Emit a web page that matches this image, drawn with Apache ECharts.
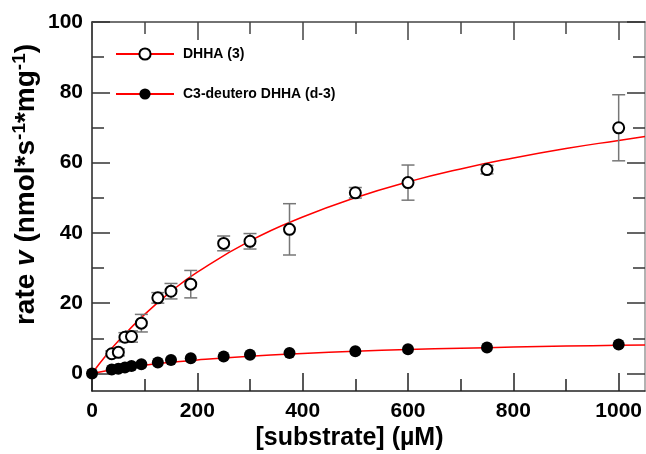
<!DOCTYPE html>
<html>
<head>
<meta charset="UTF-8">
<title>rate vs substrate</title>
<style>
body { margin: 0; background: #fff; }
#main { width: 646px; height: 454px; }
</style>
</head>
<body>
<div id="main"></div>
<script src="https://cdn.jsdelivr.net/npm/echarts@6/dist/echarts.min.js"></script>
<script>
// substrate concentrations (uM)
var substrate = [37.5, 50, 62.5, 75, 93.75, 125, 150, 187.5, 250, 300, 375, 500, 600, 750, 1000];
// DHHA (3), mean and error
var dhha = [5.6, 6.0, 10.3, 10.5, 14.3, 21.5, 23.4, 25.4, 37.0, 37.6, 41.0, 51.4, 54.3, 58.0, 69.9];
var dhhaErr = [0.8, 1.0, 1.3, 1.6, 2.5, 1.5, 2.2, 3.9, 2.1, 2.2, 7.3, 1.5, 5.0, 1.2, 9.4];
// C3-deutero DHHA (d-3)
var substrateD3 = [0, 37.5, 50, 62.5, 75, 93.75, 125, 150, 187.5, 250, 300, 375, 500, 600, 750, 1000];
var d3 = [0, 1.1, 1.3, 1.7, 2.1, 2.6, 3.1, 3.8, 4.3, 4.8, 5.3, 5.8, 6.3, 6.9, 7.4, 8.2];
// fitted curves
var fitX = [0, 25, 50, 100, 150, 200, 300, 400, 500, 600, 700, 800, 900, 1000, 1050];
var fitDhha = [0, 4.8, 9.2, 16.8, 23.3, 28.8, 37.7, 44.5, 50.0, 54.5, 58.2, 61.3, 64.0, 66.3, 67.4];
var fitD3 = [0, 0.69, 1.3, 2.33, 3.16, 3.85, 4.91, 5.69, 6.3, 6.78, 7.17, 7.49, 7.77, 8.0, 8.1];
// ticks
var xMajor = [0, 200, 400, 600, 800, 1000];
var xMinor = [100, 300, 500, 700, 900];
var yMajor = [0, 20, 40, 60, 80, 100];
var yMinor = [10, 30, 50, 70, 90];

function zip(a, b) {
  var out = [];
  for (var i = 0; i < a.length; i++) out.push([a[i], b[i]]);
  return out;
}
var errData = [];
for (var i = 0; i < substrate.length; i++) {
  errData.push([substrate[i], dhha[i] - dhhaErr[i], dhha[i] + dhhaErr[i]]);
}

var font = 'Liberation Sans, Arial, sans-serif';
var XMIN = 0, XMAX = 1050, YMIN = -5, YMAX = 100;

function xAx(pos, ticks, len, lineColor, show) {
  return {
    type: 'value', position: pos, min: XMIN, max: XMAX,
    axisLine: { show: show, onZero: false, lineStyle: { color: lineColor, width: 1.5 } },
    axisTick: { inside: true, length: len, customValues: ticks, lineStyle: { color: lineColor, width: 1.5 } },
    axisLabel: { show: false },
    splitLine: { show: false }
  };
}
function yAx(pos, ticks, len, lineColor, show) {
  return {
    type: 'value', position: pos, min: YMIN, max: YMAX,
    axisLine: { show: show, onZero: false, lineStyle: { color: lineColor, width: 1.5 } },
    axisTick: { inside: true, length: len, customValues: ticks, lineStyle: { color: '#333', width: 1.5 } },
    axisLabel: { show: false },
    splitLine: { show: false }
  };
}

var bottom = xAx('bottom', xMajor, 18, '#222', true);
bottom.axisLabel = {
  show: true, customValues: xMajor, margin: 10, color: '#000',
  fontFamily: font, fontWeight: 'bold', fontSize: 21,
  formatter: function (v) { return String(v); }
};
bottom.name = '[substrate] (\u00b5M)';
bottom.nameLocation = 'middle';
bottom.nameGap = 35;
bottom.nameMoveOverlap = false;
bottom.nameTextStyle = { color: '#000', fontFamily: font, fontWeight: 'bold', fontSize: 25, padding: [0, 38, 0, 0] };

var left = yAx('left', yMajor, 18, '#222', true);
left.axisLabel = {
  show: true, customValues: yMajor, margin: 9, color: '#000',
  fontFamily: font, fontWeight: 'bold', fontSize: 21
};
left.name = '{a|rate }{i|v}{a| (nmol*s}{s|-1}{a|*mg}{s|-1}{a|)}';
left.nameLocation = 'middle';
left.nameGap = 50;
left.nameMoveOverlap = false;
left.nameTextStyle = {
  color: '#000', fontFamily: font, fontWeight: 'bold', fontSize: 28, padding: [0, 0, 0, 44],
  rich: {
    a: { fontFamily: font, fontWeight: 'bold', fontSize: 28, lineHeight: 32, color: '#000' },
    i: { fontFamily: font, fontWeight: 'bold', fontStyle: 'italic', fontSize: 28, lineHeight: 32, color: '#000' },
    s: { fontFamily: font, fontWeight: 'bold', fontSize: 19, lineHeight: 32, verticalAlign: 'top', color: '#000' }
  }
};

var option = {
  animation: false,
  grid: { left: 92, right: 1, top: 22, bottom: 63, outerBoundsMode: 'none', containLabel: false },
  legend: {
    orient: 'vertical', left: 115, top: 47, padding: 0,
    itemWidth: 58, itemHeight: 14, itemGap: 26,
    textStyle: { color: '#000', fontFamily: font, fontWeight: 'bold', fontSize: 14, padding: [0, 0, 0, 4] },
    data: ['DHHA (3)', 'C3-deutero DHHA (d-3)']
  },
  xAxis: [
    bottom,
    xAx('bottom', xMinor, 12, '#222', false),
    xAx('top', xMajor, 18, '#444', true),
    xAx('top', xMinor, 12, '#444', false)
  ],
  yAxis: [
    left,
    yAx('left', yMinor, 12, '#222', false),
    yAx('right', yMajor, 18, '#999', true),
    yAx('right', yMinor, 12, '#999', false)
  ],
  series: [
    {
      name: 'DHHA (3)', type: 'line', data: zip(fitX, fitDhha), smooth: true,
      showSymbol: false, symbol: 'circle',
      lineStyle: { color: '#ff0000', width: 1.5 },
      itemStyle: { color: '#fff', borderColor: '#000', borderWidth: 2 },
      z: 2
    },
    {
      name: 'C3-deutero DHHA (d-3)', type: 'line', data: zip(fitX, fitD3), smooth: true,
      showSymbol: false, symbol: 'circle',
      lineStyle: { color: '#ff0000', width: 1.5 },
      itemStyle: { color: '#000' },
      z: 2
    },
    {
      type: 'custom', data: errData, z: 3,
      renderItem: function (params, api) {
        var lo = api.coord([api.value(0), api.value(1)]);
        var hi = api.coord([api.value(0), api.value(2)]);
        var w = 6.5;
        var st = { stroke: '#777', lineWidth: 1.5 };
        return {
          type: 'group',
          children: [
            { type: 'line', shape: { x1: lo[0], y1: lo[1], x2: hi[0], y2: hi[1] }, style: st },
            { type: 'line', shape: { x1: lo[0] - w, y1: lo[1], x2: lo[0] + w, y2: lo[1] }, style: st },
            { type: 'line', shape: { x1: hi[0] - w, y1: hi[1], x2: hi[0] + w, y2: hi[1] }, style: st }
          ]
        };
      }
    },
    {
      name: 'dhha points', type: 'scatter', data: zip(substrate, dhha), symbolSize: 11, z: 4,
      itemStyle: { color: '#fff', borderColor: '#000', borderWidth: 2, opacity: 1 }
    },
    {
      name: 'd3 points', type: 'scatter', data: zip(substrateD3, d3), symbolSize: 12, z: 5,
      itemStyle: { color: '#000', opacity: 1 }
    }
  ]
};

var myChart = echarts.init(document.getElementById('main'));
myChart.setOption(option);
</script>
</body>
</html>
